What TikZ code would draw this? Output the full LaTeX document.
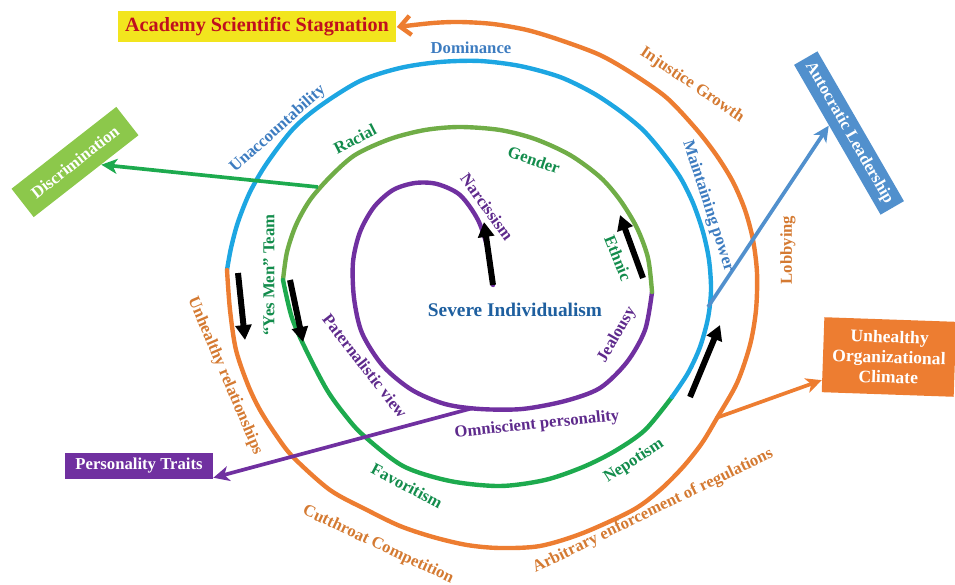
\documentclass[tikz,border=0pt]{standalone}
\usepackage{fontspec}
\setmainfont{Liberation Serif}
\usetikzlibrary{arrows.meta, positioning}

% colours of the spiral and its texts
\definecolor{ringpurple}{HTML}{7030A0}
\definecolor{ringlightgreen}{HTML}{70AD47}
\definecolor{ringgreen}{HTML}{1DAA4E}
\definecolor{ringblue}{HTML}{1DA6E2}
\definecolor{ringorange}{HTML}{ED7D31}
\definecolor{txtpurple}{HTML}{5E2A8C}
\definecolor{txtgreen}{HTML}{138C4C}
\definecolor{txtblue}{HTML}{3D7CC0}
\definecolor{txtorange}{HTML}{D47A32}
\definecolor{txtcore}{HTML}{1E5F9F}
\definecolor{txtred}{HTML}{C0101E}
\definecolor{boxyellow}{HTML}{F2E51E}
\definecolor{boxgreen}{HTML}{8CC84B}
\definecolor{boxblue}{HTML}{5190CD}

\tikzset{
  ring/.style={line width=2.5pt, line cap=round},
  pusharrow/.style={black, line width=3.4pt, -{Triangle[width=9pt,length=8.5pt]}},
  feedarrow/.style={line width=2.1pt, -{Stealth[length=9pt,width=8.5pt,inset=2.5pt]}},
  ringlabel/.style={font=\fontsize{9.5}{11}\selectfont\bfseries, inner sep=0pt},
  outbox/.style={font=\fontsize{9.5}{11.5}\selectfont\bfseries, text=white, align=center, inner sep=0pt},
}

\begin{document}
\begin{tikzpicture}[x=0.02cm, y=-0.02cm]
  \useasboundingbox (0,0) rectangle (955,584);

  % Outcome boxes
  \node[outbox, fill=boxyellow, text=txtred, font=\fontsize{11.5}{13}\selectfont\bfseries,
        minimum width=5.58cm, minimum height=0.62cm] (academy) at (257,27) {Academy Scientific Stagnation};
  \node[outbox, fill=boxgreen, rotate=38, minimum width=2.66cm, minimum height=0.72cm] (disc) at (75,162) {Discrimination};
  \node[outbox, fill=boxblue, rotate=-60, minimum width=3.46cm, minimum height=0.54cm] (auto) at (849,133) {Autocratic Leadership};
  \node[outbox, fill=ringorange, rotate=-2, font=\fontsize{10}{11.5}\selectfont\bfseries,
        minimum width=2.64cm, minimum height=1.5cm] (climate) at (889,357) {Unhealthy\\Organizational\\Climate};
  \node[outbox, fill=ringpurple, minimum width=2.96cm, minimum height=0.52cm] (pers) at (139,466) {Personality Traits};

  % Where the colours of the spiral change
  \coordinate (start) at (493,285);
  \coordinate (pg) at (652,292);
  \coordinate (gg) at (283,280);
  \coordinate (gb) at (672,397);
  \coordinate (bo) at (227,270);

  % Purple loop
  \draw[ring, ringpurple] plot[smooth] coordinates {(start) (488,250) (478,220) (460,195) (437,184) (415,183)
    (393,190) (374,207) (360,232) (353,262) (354,298) (362,333) (383,366) (412,390) (445,404) (480,409)
    (522,409) (565,401) (600,388) (627,362) (645,330) (pg)};

  % Green turn, light then dark
  \draw[ring, ringlightgreen] plot[smooth] coordinates {(pg) (648,258) (637,228) (620,200) (600,177)
    (570,155) (535,139) (500,130) (460,127) (425,130) (390,139) (355,155) (330,177) (310,200) (296,225)
    (287,252) (gg)};
  \draw[ring, ringgreen] plot[smooth] coordinates {(gg) (292,318) (307,352) (327,390) (345,415) (363,435)
    (403,466) (450,481) (500,486) (545,480) (583,467) (615,451) (645,430) (gb)};

  % Blue turn
  \draw[ring, ringblue] plot[smooth] coordinates {(gb) (688,373) (700,347) (708,318) (711,290) (709,260)
    (703,232) (693,203) (680,177) (662,152) (643,130) (620,111) (593,93) (560,77) (520,66) (480,61)
    (440,62) (400,68) (360,81) (320,106) (293,129) (267,163) (250,192) (238,222) (231,248) (bo)};

  % Orange turn, ends in the top box
  \draw[ring, ringorange, -{Straight Barb[length=6pt,width=11pt]}] plot[smooth] coordinates {(bo) (230,310)
    (236,350) (248,385) (260,410) (276,435) (293,457) (330,490) (367,510) (400,526) (433,537) (467,545)
    (500,548) (540,546) (583,533) (633,510) (660,490) (683,467) (702,443) (717,418) (737,383) (750,345)
    (756,310) (757,273) (753,240) (745,210) (733,182) (717,156) (697,130) (667,98) (633,74) (600,55)
    (560,40) (527,30) (493,24) (460,22) (433,23) (academy.east)};

  % Feeds out to the boxes
  \coordinate (gdisc) at (318,187);
  \coordinate (bauto) at (708,307);
  \coordinate (oclim) at (716,418);
  \coordinate (ppers) at (473,408);
  \draw[feedarrow, ringgreen] (gdisc) -- (disc);
  \draw[feedarrow, boxblue] (bauto) -- (auto.-140);
  \draw[feedarrow, ringorange] (oclim) -- (climate.201);
  \draw[feedarrow, ringpurple] (ppers) -- (pers.-9);

  % Black arrows along the spiral
  \coordinate (n1) at (484,222);
  \coordinate (e0) at (643,278);
  \coordinate (e1) at (620,215);
  \coordinate (l0) at (238,273);
  \coordinate (l1) at (245,340);
  \coordinate (m0) at (290,280);
  \coordinate (m1) at (303,342);
  \coordinate (r0) at (690,397);
  \coordinate (r1) at (720,325);
  \draw[pusharrow] (start) -- (n1);
  \draw[pusharrow] (e0) -- (e1);
  \draw[pusharrow] (l0) -- (l1);
  \draw[pusharrow] (m0) -- (m1);
  \draw[pusharrow] (r0) -- (r1);

  % Centre
  \node[ringlabel, text=txtcore, font=\fontsize{11}{13}\selectfont\bfseries] (core) at (515,310) {Severe Individualism};

  % Purple labels
  \node[ringlabel, text=txtpurple, rotate=-54] (narc) at (487,207) {Narcissism};
  \node[ringlabel, text=txtpurple, rotate=60] (jeal) at (617,335) {Jealousy};
  \node[ringlabel, text=txtpurple, rotate=-52] (patern) at (365,366) {Paternalistic view};
  \node[ringlabel, text=txtpurple, rotate=6] (omni) at (537,425) {Omniscient personality};

  % Green labels
  \node[ringlabel, text=txtgreen, rotate=27] (racial) at (355,139) {Racial};
  \node[ringlabel, text=txtgreen, rotate=-19] (gender) at (534,160) {Gender};
  \node[ringlabel, text=txtgreen, rotate=-68] (ethnic) at (618,258) {Ethnic};
  \node[ringlabel, text=txtgreen, rotate=90] (yesmen) at (269,275) {``Yes Men'' Team};
  \node[ringlabel, text=txtgreen, rotate=-28] (favor) at (407,486) {Favoritism};
  \node[ringlabel, text=txtgreen, rotate=33] (nepot) at (634,461) {Nepotism};

  % Blue labels
  \node[ringlabel, text=txtblue] (dom) at (471,48) {Dominance};
  \node[ringlabel, text=txtblue, rotate=42] (unacc) at (278,129) {Unaccountability};
  \node[ringlabel, text=txtblue, rotate=-72] (maint) at (708,206) {Maintaining power};

  % Orange labels
  \node[ringlabel, text=txtorange, rotate=-67] (unrel) at (225,376) {Unhealthy relationships};
  \node[ringlabel, text=txtorange, rotate=-25] (cutthroat) at (378,545) {Cutthroat Competition};
  \node[ringlabel, text=txtorange, rotate=26] (arbit) at (653,511) {Arbitrary enforcement of regulations};
  \node[ringlabel, text=txtorange, rotate=90] (lobby) at (788,250) {Lobbying};
  \node[ringlabel, text=txtorange, rotate=-34] (injust) at (692,85) {Injustice Growth};
\end{tikzpicture}
\end{document}
